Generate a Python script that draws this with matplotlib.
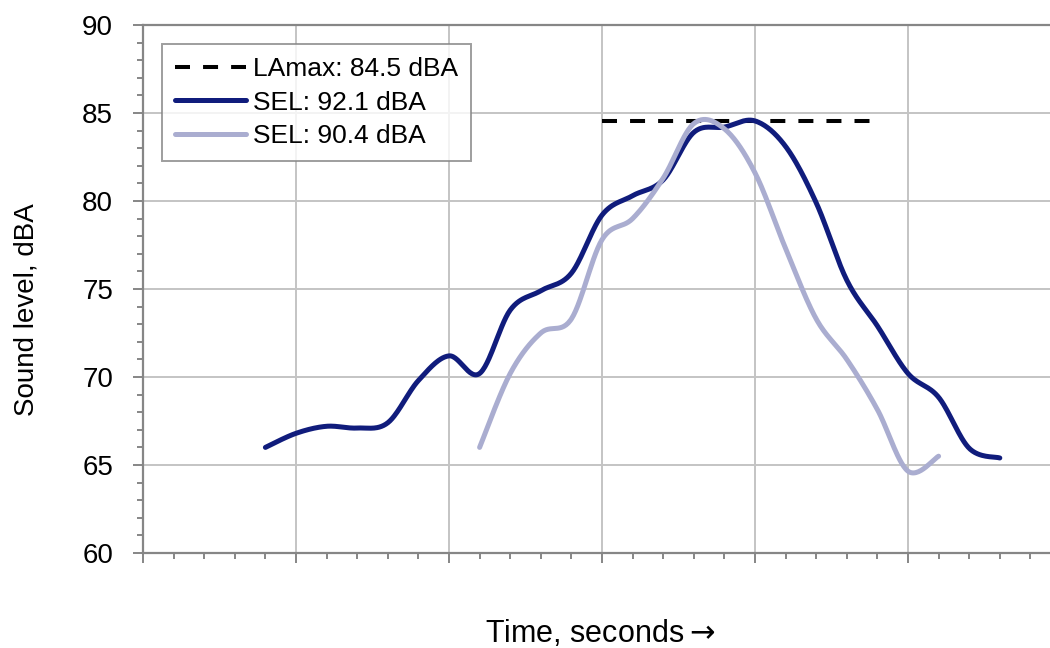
import numpy as np
import matplotlib
matplotlib.use("Agg")
from matplotlib import pyplot as plt
from matplotlib.ticker import MultipleLocator, NullFormatter

plt.rcParams['font.family'] = ['Liberation Sans', 'DejaVu Sans']
plt.rcParams['lines.scale_dashes'] = False

# Data (seconds, dBA)
t_dark = [4, 5, 6, 7, 8, 9, 10, 11, 12, 13, 14, 15, 16, 17, 18, 19, 20, 21, 22, 23, 24, 25, 26, 27, 28]
lvl_dark = [66.0, 66.8, 67.2, 67.1, 67.4, 69.8, 71.2, 70.2, 73.8, 74.9, 75.9, 79.2, 80.3, 81.2,
            83.9, 84.2, 84.55, 83.1, 79.9, 75.5, 72.9, 70.2, 68.85, 65.95, 65.4]

t_light = [11, 12, 13, 14, 15, 16, 17, 18, 19, 20, 21, 22, 23, 24, 25, 26]
lvl_light = [66.0, 70.2, 72.5, 73.3, 77.8, 79.0, 81.3, 84.4, 84.1, 81.6, 77.3, 73.3, 71.0,
             68.15, 64.65, 65.5]

t_max = [15, 24]
lvl_max = [84.55, 84.55]

labels = ["LAmax: 84.5 dBA", "SEL: 92.1 dBA", "SEL: 90.4 dBA"]

dark_col = "#101c7c"
light_col = "#aaadd0"
axis_col = "#868686"
grid_col = "#c4c4c4"


def smooth(xs, ys, n=30):
    # spreadsheet-style smoothed line: cubic Bezier through the points
    p = np.column_stack([xs, ys]).astype(float)
    m = len(p)
    out = []
    for i in range(m - 1):
        p0 = p[i - 1] if i > 0 else p[i]
        p1 = p[i]
        p2 = p[i + 1]
        p3 = p[i + 2] if i + 2 < m else p[i + 1]
        c1 = p1 + (p2 - p0) / 6.0
        c2 = p2 - (p3 - p1) / 6.0
        s = np.linspace(0, 1, n)[:, None]
        seg = ((1 - s) ** 3) * p1 + 3 * ((1 - s) ** 2) * s * c1 + 3 * (1 - s) * s ** 2 * c2 + s ** 3 * p2
        out.append(seg if i == 0 else seg[1:])
    out = np.vstack(out)
    return out[:, 0], out[:, 1]


fig = plt.figure(figsize=(10.5, 6.48), dpi=100)
ax = fig.add_axes([143 / 1050, 95 / 648, 918 / 1050, 528 / 648])

xd, yd = smooth(t_dark, lvl_dark)
xl, yl = smooth(t_light, lvl_light)

ax.plot(t_max, lvl_max, color='black', linewidth=2.9, dashes=(10.8, 9.4), label=labels[0], zorder=3)
ax.plot(xd, yd, color=dark_col, linewidth=3.6, solid_capstyle='round', label=labels[1], zorder=4)
ax.plot(xl, yl, color=light_col, linewidth=3.6, solid_capstyle='round', label=labels[2], zorder=5)

ax.set_xlim(0, 30)
ax.set_ylim(60, 90)

ax.xaxis.set_major_locator(MultipleLocator(5))
ax.xaxis.set_minor_locator(MultipleLocator(1))
ax.xaxis.set_major_formatter(NullFormatter())
ax.yaxis.set_major_locator(MultipleLocator(5))
ax.yaxis.set_minor_locator(MultipleLocator(1))

ax.tick_params(which='both', direction='out', color=axis_col, width=1.4)
ax.tick_params(which='major', length=7.5)
ax.tick_params(which='minor', length=4.5)
ax.tick_params(axis='y', which='major', labelsize=20, pad=14)

ax.grid(True, which='major', color=grid_col, linewidth=1.4)
ax.set_axisbelow(True)

for side in ['left', 'bottom', 'top']:
    ax.spines[side].set_color(axis_col)
    ax.spines[side].set_linewidth(1.6)
ax.spines['right'].set_visible(False)

fig.text(600 / 1050, 1 - 634 / 648, "Time, seconds$\\rightarrow$", fontsize=22, ha='center', va='center')
fig.text(27 / 1050, 1 - 310 / 648, "Sound level, dBA", fontsize=20, ha='center', va='center', rotation=90)

leg = ax.legend(loc='upper left', bbox_to_anchor=(162 / 1050, 1 - 44 / 648),
                bbox_transform=fig.transFigure, fontsize=19, frameon=True, fancybox=False,
                handlelength=2.7, handletextpad=0.25, borderpad=0.5, labelspacing=0.36,
                borderaxespad=0)
leg.get_frame().set_edgecolor(axis_col)
leg.get_frame().set_linewidth(1.4)

fig.savefig("out.png", dpi=100)
